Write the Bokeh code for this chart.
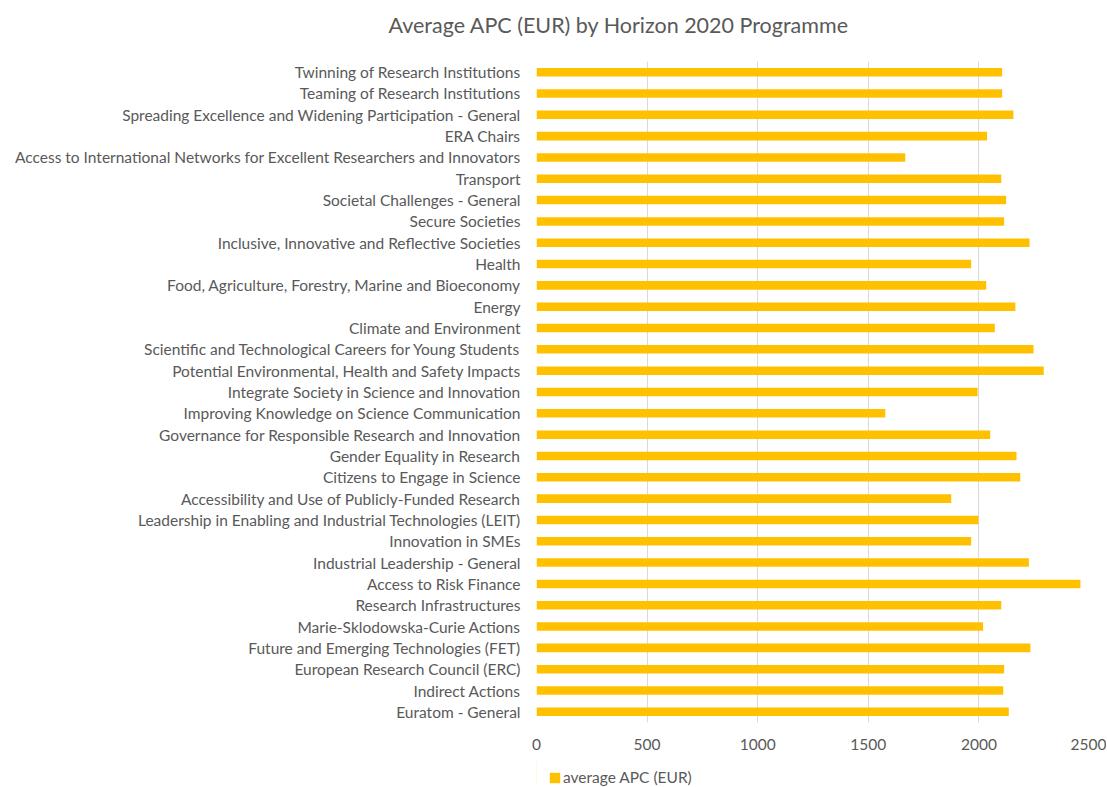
from bokeh.plotting import figure
from bokeh.layouts import column
from bokeh.models import (Range1d, FactorRange, Legend, LegendItem,
                          ColumnDataSource, FixedTicker)
from bokeh.embed import file_html
from bokeh.resources import INLINE

programmes = [
    "Twinning of Research Institutions",
    "Teaming of Research Institutions",
    "Spreading Excellence and Widening Participation - General",
    "ERA Chairs",
    "Access to International Networks for Excellent Researchers and Innovators",
    "Transport",
    "Societal Challenges - General",
    "Secure Societies",
    "Inclusive, Innovative and Reflective Societies",
    "Health",
    "Food, Agriculture, Forestry, Marine and Bioeconomy",
    "Energy",
    "Climate and Environment",
    "Scientific and Technological Careers for Young Students",
    "Potential Environmental, Health and Safety Impacts",
    "Integrate Society in Science and Innovation",
    "Improving Knowledge on Science Communication",
    "Governance for Responsible Research and Innovation",
    "Gender Equality in Research",
    "Citizens to Engage in Science",
    "Accessibility and Use of Publicly-Funded Research",
    "Leadership in Enabling and Industrial Technologies (LEIT)",
    "Innovation in SMEs",
    "Industrial Leadership - General",
    "Access to Risk Finance",
    "Research Infrastructures",
    "Marie-Sklodowska-Curie Actions",
    "Future and Emerging Technologies (FET)",
    "European Research Council (ERC)",
    "Indirect Actions",
    "Euratom - General",
]
avg_apc = [2105, 2105, 2156, 2037, 1667, 2101, 2123, 2114, 2229, 1965,
           2033, 2165, 2072, 2247, 2293, 1994, 1577, 2051, 2170, 2187,
           1875, 1998, 1965, 2226, 2459, 2101, 2019, 2233, 2114, 2110, 2135]
x_ticks = [0, 500, 1000, 1500, 2000, 2500]
series_name = "average APC (EUR)"
title_text = "Average APC (EUR) by Horizon 2020 Programme"

FONT = "Lato"
GREY = "#595959"
BAR = "#FFC000"
LABEL_SIZE = "15.5px"

src = ColumnDataSource(dict(prog=programmes, apc=avg_apc))

p = figure(width=1106, height=760,
           y_range=FactorRange(factors=programmes[::-1]),
           x_range=Range1d(0, 2500),
           output_backend="svg", toolbar_location=None,
           min_border_left=536, min_border_right=17,
           min_border_top=61, min_border_bottom=38,
           title=title_text + "\n ")

r = p.hbar(y="prog", right="apc", height=0.4, source=src,
           fill_color=BAR, line_color=None)

p.title.align = "left"
p.title.offset = -148
p.title.standoff = -8
p.title.vertical_align = "top"
p.title.text_font = FONT
p.title.text_font_size = "21.5px"
p.title.text_font_style = "normal"
p.title.text_color = GREY

p.outline_line_color = None
p.background_fill_color = "white"
p.border_fill_color = "white"
p.ygrid.grid_line_color = None
p.xgrid.grid_line_color = "#d9d9d9"
p.xgrid.grid_line_width = 1

p.xaxis.ticker = FixedTicker(ticks=x_ticks)
for ax in (p.xaxis, p.yaxis):
    ax.axis_line_color = None
    ax.major_tick_line_color = None
    ax.minor_tick_line_color = None
    ax.major_tick_out = 0
    ax.major_tick_in = 0
    ax.minor_tick_out = 0
    ax.major_label_text_font = FONT
    ax.major_label_text_font_size = LABEL_SIZE
    ax.major_label_text_color = GREY
p.xaxis.major_label_standoff = 16
p.yaxis.major_label_standoff = 16

# legend strip below the chart: same series as key, its bars lie outside the view
lg = figure(width=1106, height=26, x_range=Range1d(5000, 6000),
            y_range=FactorRange(factors=programmes[::-1]),
            output_backend="svg", toolbar_location=None,
            x_axis_type=None, y_axis_type=None,
            min_border_left=536, min_border_right=17,
            min_border_top=0, min_border_bottom=0)
lg.outline_line_color = None
lg.background_fill_color = "white"
lg.border_fill_color = "white"
key = lg.hbar(y="prog", right="apc", height=0.4, source=src,
              fill_color=BAR, line_color=None)

legend = Legend(items=[LegendItem(label=series_name, renderers=[key])],
                location=(12, 0), orientation="horizontal",
                glyph_width=13, glyph_height=13, label_standoff=2,
                padding=0, margin=0, label_height=16,
                border_line_color=None, background_fill_alpha=0,
                label_text_font=FONT, label_text_font_size=LABEL_SIZE,
                label_text_color=GREY)
lg.add_layout(legend)

layout = column(p, lg, spacing=0)
open("out.html", "w").write(file_html(layout, INLINE))
